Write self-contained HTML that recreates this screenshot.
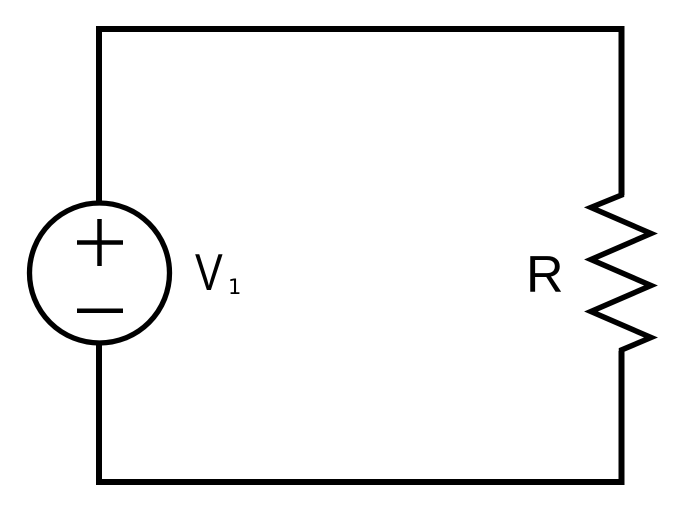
<!DOCTYPE html>
<html>
<head>
<meta charset="utf-8">
<style>
  html, body { margin: 0; padding: 0; background: #fff; }
  body { width: 682px; height: 512px; overflow: hidden; }
  svg { display: block; }
</style>
</head>
<body>
<svg width="682" height="512" viewBox="0 0 682 512" xmlns="http://www.w3.org/2000/svg">
  <rect width="682" height="512" fill="#fff"/>
  <!-- wires -->
  <path d="M99 203 V29 H621.5 V195" fill="none" stroke="#000" stroke-width="6" stroke-linejoin="miter" stroke-linecap="butt"/>
  <path d="M99 343 V482 H621.5 V351" fill="none" stroke="#000" stroke-width="6" stroke-linejoin="miter" stroke-linecap="butt"/>
  <!-- resistor zigzag -->
  <path d="M621.5 193 V195 L591 207.5 L651 233.5 L591 259.5 L651 285.5 L591 311.5 L651 337.5 L621.5 350 V353" fill="none" stroke="#000" stroke-width="5.5" stroke-linejoin="miter" stroke-miterlimit="10"/>
  <!-- voltage source -->
  <circle cx="99.5" cy="273" r="70" fill="none" stroke="#000" stroke-width="5.3"/>
  <line x1="77" y1="242.5" x2="123" y2="242.5" stroke="#000" stroke-width="4.5"/>
  <line x1="99.5" y1="219" x2="99.5" y2="266" stroke="#000" stroke-width="4.5"/>
  <line x1="77" y1="310.7" x2="123" y2="310.7" stroke="#000" stroke-width="4.5"/>
  <!-- labels -->
  <text transform="translate(195,290) scale(0.8,1)" font-family="'Liberation Sans', sans-serif" font-size="52" fill="#000">V</text>
  <text x="228" y="294" font-family="'DejaVu Sans', sans-serif" font-size="21" fill="#000">1</text>
  <text x="526" y="292" font-family="'Liberation Sans', sans-serif" font-size="52" fill="#000">R</text>
</svg>
</body>
</html>
